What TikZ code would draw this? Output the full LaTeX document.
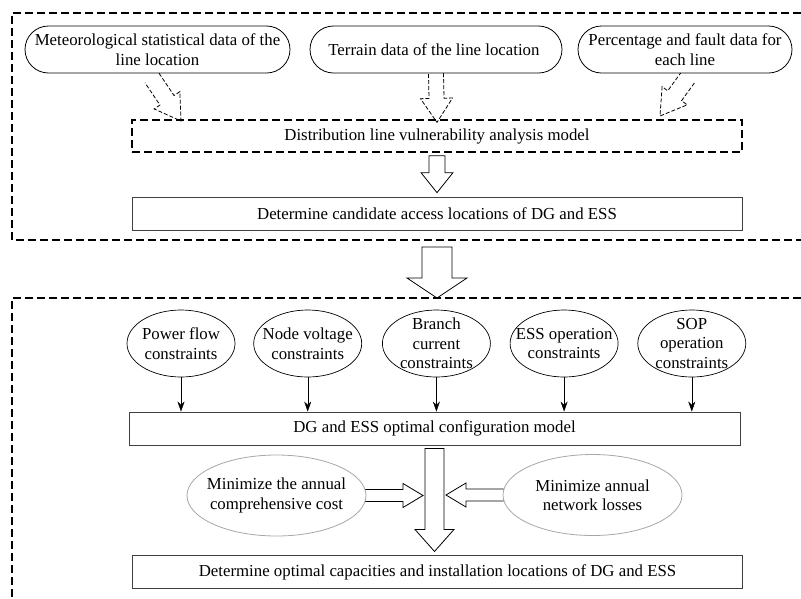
\documentclass[tikz,border=0pt]{standalone}
\usepackage{fontspec}
\setmainfont{Liberation Serif}
\usetikzlibrary{positioning,calc}
\usetikzlibrary{shapes,arrows.meta}
\tikzset{
    stadium/.style={
           rounded rectangle,
           draw=black, line width=0.8pt,
           minimum height=47pt,
           inner sep=0pt,
           align=center,
           },
    dashbox/.style={
           rectangle,
           draw=black, line width=1.3pt,
           dash pattern=on 8pt off 4pt,
           minimum height=32pt,
           minimum width=610pt,
           },
    plainbox/.style={
           rectangle,
           draw=black!75, line width=0.9pt,
           minimum height=33pt,
           minimum width=610pt,
           },
    cons/.style={
           ellipse,
           draw=black, line width=0.7pt,
           minimum width=108pt,
           minimum height=67pt,
           },
    goal/.style={
           ellipse,
           draw=black!35, line width=0.8pt,
           minimum width=179pt,
           minimum height=81pt,
           },
    frame/.style={
           line width=1.3pt,
           dash pattern=on 8pt off 4pt,
           },
}
% hollow block arrow: [opts]{start}{tip}{half shaft}{half head}{head length}{closing}
\newcommand{\fatarrow}[7][]{%
 \coordinate (fa-b) at ($(#3)!#6!(#2)$);
 \draw[line width=0.8pt,#1]
  ($(#2)!#4!90:(#3)$) -- ($(fa-b)!#4!90:(#3)$) -- ($(fa-b)!#5!90:(#3)$) -- (#3)
  -- ($(fa-b)!#5!-90:(#3)$) -- ($(fa-b)!#4!-90:(#3)$) -- ($(#2)!#4!-90:(#3)$) #7;
}
\begin{document}
\begin{tikzpicture}
[
x=1pt,y=-1pt,
font=\fontsize{16.8}{19.5}\selectfont,
->,>={Stealth[length=10pt,width=7pt]}
]
 \useasboundingbox (0,0) rectangle (801,598);

 % the two dashed frames
 \draw[frame,-] (801,13) -- (12,13) -- (12,240) -- (801,240);
 \draw[frame,-] (801,298) -- (12,298) -- (12,598);

 % First row: data sources
 \node[stadium,
 minimum width=265pt] (METEO) at (157.5,49.5)
 {%
Meteorological statistical data of the\\line location
 };

 \node[stadium,
 minimum width=252pt] (TERRAIN) at (436,49.5)
 {%
Terrain data of the line location
 };

 \node[stadium,
 minimum width=214pt] (FAULT) at (685,49.5)
 {%
Percentage and fault data for\\each line
 };

 % vulnerability model
 \node[dashbox] (VULN) at (437,136)
 {%
Distribution line vulnerability analysis model
 };

 % candidate locations
 \node[plainbox,
 below=44pt of VULN] (CAND)
 {%
Determine candidate access locations of DG and ESS
 };

 % Second part: constraints
 \node[cons] (PF) at (181,343.5) {};
 \node[cons, right=18pt of PF] (NV) {};
 \node[cons, right=20pt of NV] (BC) {};
 \node[cons, right=19pt of BC] (ESSOP) {};
 \node[cons, right=19pt of ESSOP] (SOPOP) {};
 \path
  (PF) node[align=center] {Power flow\\constraints}
  (NV) node[align=center] {Node voltage\\constraints}
  (BC) node[align=center] {Branch\\current\\constraints}
  (ESSOP) node[align=center] {ESS operation\\constraints}
  (SOPOP) node[align=center] {SOP\\operation\\constraints}
 ;

 % configuration model
 \node[plainbox,
 minimum width=611pt] (CONFIG) at (434.5,428.5)
 {%
DG and ESS optimal configuration model
 };

 % objectives
 \node[goal] (COST) at (276.5,495.5) {};
 \node[goal] (LOSS) at (592.5,495) {};
 \path
  (COST) node[align=center] {Minimize the annual\\comprehensive cost}
  (LOSS) node[align=center] {Minimize annual\\network losses}
 ;

 % result
 \node[plainbox,
 below=110pt of CONFIG,
 xshift=3pt] (RESULT)
 {%
Determine optimal capacities and installation locations of DG and ESS
 };

 % draw the thin arrows
 \foreach \c in {PF,NV,BC,ESSOP,SOPOP}
  \draw (\c.south) -- (\c.south |- CONFIG.north);

 % end points of the block arrows
 \coordinate (M1) at (152,78);
 \coordinate (M2) at (181,121);
 \coordinate (T1) at (TERRAIN.south);
 \coordinate (T2) at ([yshift=-3pt]VULN.north);
 \coordinate (F1) at (687.5,78);
 \coordinate (F2) at (660,116);
 \coordinate (V1) at ([yshift=-3pt]VULN.south);
 \coordinate (V2) at ([yshift=4pt]CAND.north);
 \coordinate (S1) at (437,247);
 \coordinate (S2) at (437,298);
 \coordinate (D1) at ([yshift=-3pt]CONFIG.south);
 \coordinate (D2) at ([yshift=4pt]RESULT.north -| D1);
 \coordinate (C1) at ([xshift=-1pt]COST.east);
 \coordinate (C2) at (423,495.5);
 \coordinate (L1) at ([xshift=1pt]LOSS.west);
 \coordinate (L2) at (446,495);

 \fatarrow[-,dash pattern=on 4pt off 2pt]{M1}{M2}{8.5pt}{15.5pt}{25pt}{}
 \fatarrow[-,dash pattern=on 4pt off 2pt]{T1}{T2}{7.5pt}{16pt}{24pt}{}
 \fatarrow[-,dash pattern=on 4pt off 2pt]{F1}{F2}{8.5pt}{15.5pt}{25pt}{}
 \fatarrow[-]{V1}{V2}{8pt}{16pt}{20pt}{-- cycle}
 \fatarrow[-]{S1}{S2}{15pt}{30pt}{20pt}{-- cycle}
 \fatarrow[-]{D1}{D2}{9.5pt}{19.5pt}{22pt}{-- cycle}
 \fatarrow[-]{C1}{C2}{6pt}{12pt}{20pt}{}
 \fatarrow[-]{L1}{L2}{6pt}{12pt}{20pt}{}
\end{tikzpicture}
\end{document}
